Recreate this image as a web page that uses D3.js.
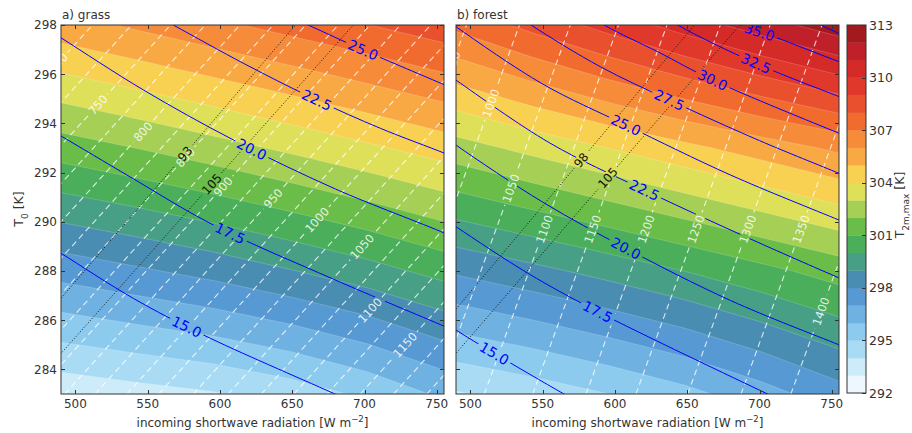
<!DOCTYPE html>
<html><head><meta charset="utf-8">
<script src="https://cdn.jsdelivr.net/npm/d3@7"></script>
<style>
body{margin:0;background:#fff}
text{font-family:'DejaVu Sans',sans-serif}
</style></head>
<body><svg id="c" width="912" height="433"></svg>
<script>
// ---------------- data ----------------
const swGrid = [490, 543, 596, 649, 702, 755];
const t0Grid = [283, 288, 293, 298];
const grassT2m = [
  [293.27, 293.6, 293.92, 294.45, 295.2, 296.2],
  [297.38, 297.85, 298.35, 298.95, 299.6, 300.35],
  [301.49, 302.02, 302.6, 303.2, 303.82, 304.46],
  [305.6, 306.18, 306.78, 307.38, 307.98, 308.6]
];
const forestT2m = [
  [293.9, 294.4, 295.0, 295.7, 296.6, 297.6],
  [298.14, 298.72, 299.35, 300.02, 300.72, 301.43],
  [302.57, 303.3, 304.02, 304.75, 305.47, 306.2],
  [307.25, 308.32, 309.39, 310.46, 311.53, 312.6]
];
const bandLevels = d3.range(292, 313);
const bandColors = ['#eef7fd','#cdebf9','#a9dcf4','#8ccbee','#6fb1e1','#5699d3','#4a8db3','#479f86','#4aae5a','#69bd48','#a6cf55','#dfe05a','#f8d052','#f8a944','#f68c3a','#f26b2e','#e9502d','#e0382a','#d42a28','#c0202a','#a31a1e'];
const cbTicks = [292, 295, 298, 301, 304, 307, 310, 313];
const xTicks = [500, 550, 600, 650, 700, 750];
const yTicks = [284, 286, 288, 290, 292, 294, 296, 298];

const grassBlueLevels = [15, 17.5, 20, 22.5, 25];
const grassBlueLines = [
  [[470,289.45],[490,288.72],[540,286.89],[588.5,285.4],[678.4,283.03],[720,281.93]],
  [[470,294.18],[490,293.49],[537.7,291.83],[595.4,289.87],[678.4,287.67],[755.7,285.74],[770,285.37]],
  [[470,298.23],[490,297.48],[547,295.36],[609.2,293.33],[680,291.33],[755.7,289.53],[770,289.13]],
  [[540,298.9],[567.7,298],[617.3,296.41],[666.9,294.95],[711,293.8],[755.7,292.78],[770,292.43]],
  [[630,298.82],[661,298],[699.2,296.98],[755.7,295.56],[770,295.2]]
];
const grassBlueLabelSW = [577, 607, 622, 667, 699];

const forestBlueLevels = [15, 17.5, 20, 22.5, 25, 27.5, 30, 32.5, 35, 37.5];
const forestBlueLines = [
  [[470,286.4],[490,285.6],[516.5,284.65],[563.8,283.03],[580,282.5]],
  [[470,290.6],[490,289.8],[540,287.9],[588,286.35],[704.5,283.03],[720,282.6]],
  [[470,294.0],[490,293.12],[550,290.8],[607.6,288.92],[680,286.8],[755,285.0],[770,284.65]],
  [[470,296.6],[490,295.76],[555,293.2],[620.3,291.29],[690,289.4],[755,287.72],[770,287.35]],
  [[470,298.8],[490,297.93],[550,295.6],[607.6,293.93],[680,291.9],[755,290.07],[770,289.7]],
  [[520,298.9],[541.9,298],[590,296.3],[637.6,294.95],[700,293.3],[755,291.97],[770,291.6]],
  [[570,298.9],[592.6,298],[630,296.9],[667.6,295.76],[755,293.6],[770,293.25]],
  [[620,298.9],[643.4,298],[697.6,296.44],[755,295.09],[770,294.75]],
  [[665,298.8],[687.2,298],[710.2,297.52],[755,296.51],[770,296.2]],
  [[725,298.6],[742.5,298],[755,297.66],[770,297.3]]
];
const forestBlueLabelSW = [516.5, 588, 607.6, 620.3, 607.6, 637.6, 667.6, 697.6, 700, null];

const grassWhiteLevels = [675,700,725,750,775,800,825,850,875,900,925,950,975,1000,1025,1050,1075,1100,1125,1150,1175,1200];
const grassWhiteBottomSW = [252.6,279.6,306.6,333.6,357.6,381.6,404.6,427.1,449.6,471.6,492.6,513.6,535.6,557.6,581.6,605.6,628.6,651.1,674.1,697.1,720.1,743.1];
const grassWhiteTopSW = [484.8,511.8,538.8,565.8,589.8,613.8,636.8,659.3,681.8,703.8,724.8,745.8,767.8,789.8,813.8,837.8,860.8,883.3,906.3,929.3,952.3,975.3];
const grassWhiteLabelLevels = [700,750,800,850,900,950,1000,1050,1100,1150];
const grassWhiteLabelSW = [488,515.6,546.7,576,602.1,636.7,667.1,698.3,703.8,728];

const forestWhiteLevels = [950,1000,1050,1100,1150,1200,1250,1300,1350,1400,1450];
const forestWhiteBottomSW = [404.4,441.0,476.2,509.6,543.1,580.0,614.5,650.3,687.2,721.7,756.5];
const forestWhiteTopSW = [497.3,533.9,569.1,602.5,636.0,672.9,707.4,743.2,780.1,814.6,849.4];
const forestWhiteLabelLevels = [950,1000,1050,1100,1150,1200,1250,1300,1350,1400];
const forestWhiteLabelSW = [488,514.2,528,551.1,584.6,621.5,656,691.8,728.7,742.5];

const grassDotLevels = [93, 105];
const grassDotLines = [[[470,285.52],[680,299.9]], [[470,283.33],[720,299.83]]];
const grassDotLabelSW = [575.8, 594.3];
const forestDotLevels = [98, 105];
const forestDotLines = [[[470,285.05],[680,299.75]], [[470,283.29],[720,300.29]]];
const forestDotLabelSW = [576.5, 595];

// ---------------- drawing ----------------
const svg = d3.select('#c');
const defs = svg.append('defs');
const TOP = 25, BOT = 394;
const ys = d3.scaleLinear().domain([283, 298]).range([BOT, TOP]);

function drawPanel(cfg) {
  const {id, x0, x1, title, grid} = cfg;
  const xs = d3.scaleLinear().domain([490, 755]).range([x0, x1]);
  defs.append('clipPath').attr('id', 'clip' + id)
    .append('rect').attr('x', x0).attr('y', TOP).attr('width', x1 - x0).attr('height', BOT - TOP);
  const mask = defs.append('mask').attr('id', 'mask' + id).attr('maskUnits', 'userSpaceOnUse')
    .attr('x', 0).attr('y', 0).attr('width', 912).attr('height', 433);
  mask.append('rect').attr('x', 0).attr('y', 0).attr('width', 912).attr('height', 433).attr('fill', 'white');

  const plot = svg.append('g').attr('clip-path', `url(#clip${id})`);

  // filled contours
  const nx = swGrid.length, ny = t0Grid.length;
  const dSW = swGrid[1] - swGrid[0], dT = t0Grid[1] - t0Grid[0];
  const values = [];
  for (let j = 0; j < ny; j++) for (let i = 0; i < nx; i++) values.push(grid[j][i]);
  const proj = d3.geoTransform({point(x, y) {
    this.stream.point(xs(swGrid[0] + (x - 0.5) * dSW), ys(t0Grid[0] + (y - 0.5) * dT));
  }});
  const gp = d3.geoPath(proj);
  const cs = d3.contours().size([nx, ny]).thresholds(bandLevels)(values);
  plot.append('g').selectAll('path').data(cs).join('path')
    .attr('d', gp)
    .attr('fill', d => bandColors[d.value - 292])
    .attr('stroke', 'rgba(255,255,255,0.3)')
    .attr('stroke-width', 0.6);

  const lines = plot.append('g').attr('mask', `url(#mask${id})`);
  const labels = plot.append('g');
  const line = d3.line().x(d => xs(d[0])).y(d => ys(d[1])).curve(d3.curveCatmullRom.alpha(0.5));
  const straight = d3.line().x(d => xs(d[0])).y(d => ys(d[1]));

  function label(pathSel, sw, txt, fill, fs, opacity) {
    const node = pathSel.node();
    const total = node.getTotalLength();
    const tx = xs(sw);
    let lo = 0, hi = total;
    for (let k = 0; k < 40; k++) {
      const mid = (lo + hi) / 2;
      if (node.getPointAtLength(mid).x < tx) lo = mid; else hi = mid;
    }
    const L = (lo + hi) / 2;
    const p = node.getPointAtLength(L);
    const a = node.getPointAtLength(Math.max(0, L - 6));
    const b = node.getPointAtLength(Math.min(total, L + 6));
    let ang = Math.atan2(b.y - a.y, b.x - a.x) * 180 / Math.PI;
    if (ang > 90) ang -= 180;
    if (ang < -90) ang += 180;
    const tr = `translate(${p.x},${p.y}) rotate(${ang})`;
    const t = labels.append('text').attr('transform', tr)
      .attr('text-anchor', 'middle').attr('dy', '0.36em')
      .attr('font-size', fs).attr('fill', fill).attr('fill-opacity', opacity).text(txt);
    const w = t.node().getComputedTextLength();
    mask.append('rect').attr('transform', tr)
      .attr('x', -w / 2 - 3).attr('y', -fs * 0.45).attr('width', w + 6).attr('height', fs * 0.9)
      .attr('fill', 'black');
  }

  // white dashed
  cfg.whiteLevels.forEach((lv, k) => {
    const pts = [[cfg.whiteBottom[k], 283], [cfg.whiteTop[k], 298]];
    const p = lines.append('path').attr('d', straight(pts)).attr('fill', 'none')
      .attr('stroke', '#fff').attr('stroke-opacity', 0.8).attr('stroke-width', 1.1)
      .attr('stroke-dasharray', '6,4');
    const li = cfg.whiteLabelLevels.indexOf(lv);
    if (li >= 0) label(p, cfg.whiteLabelSW[li], String(lv), '#fff', 11.5, 0.85);
  });
  // blue
  cfg.blueLevels.forEach((lv, k) => {
    const p = lines.append('path').attr('d', line(cfg.blueLines[k])).attr('fill', 'none')
      .attr('stroke', '#0000ff').attr('stroke-width', 1);
    if (cfg.blueLabelSW[k] != null) label(p, cfg.blueLabelSW[k], lv.toFixed(1), '#0000ff', 14, 1);
  });
  // black dotted
  cfg.dotLevels.forEach((lv, k) => {
    const p = lines.append('path').attr('d', straight(cfg.dotLines[k])).attr('fill', 'none')
      .attr('stroke', '#111').attr('stroke-width', 1).attr('stroke-dasharray', '1,2');
    label(p, cfg.dotLabelSW[k], String(lv), '#111', 12, 1);
  });

  // frame
  svg.append('rect').attr('x', x0).attr('y', TOP).attr('width', x1 - x0).attr('height', BOT - TOP)
    .attr('fill', 'none').attr('stroke', '#333').attr('stroke-width', 1);
  const ax = svg.append('g').attr('stroke', '#333').attr('stroke-width', 1);
  xTicks.forEach(v => {
    const x = Math.round(xs(v)) + 0.5;
    ax.append('line').attr('x1', x).attr('x2', x).attr('y1', BOT).attr('y2', BOT - 4);
    ax.append('line').attr('x1', x).attr('x2', x).attr('y1', TOP).attr('y2', TOP + 4);
    svg.append('text').attr('x', xs(v)).attr('y', 408).attr('text-anchor', 'middle')
      .attr('font-size', 12).attr('fill', '#333').text(v);
  });
  yTicks.forEach(v => {
    const y = Math.round(ys(v)) + 0.5;
    ax.append('line').attr('x1', x0).attr('x2', x0 + 4).attr('y1', y).attr('y2', y);
    ax.append('line').attr('x1', x1).attr('x2', x1 - 4).attr('y1', y).attr('y2', y);
    if (cfg.showY) svg.append('text').attr('x', x0 - 4).attr('y', ys(v)).attr('dy', '0.36em')
      .attr('text-anchor', 'end').attr('font-size', 12).attr('fill', '#333').text(v);
  });
  svg.append('text').attr('x', (x0 + x1) / 2).attr('y', 427).attr('text-anchor', 'middle')
    .attr('font-size', 12).attr('fill', '#333')
    .html('incoming shortwave radiation [W m<tspan baseline-shift="super" font-size="8.5">\u22122</tspan>]');
  svg.append('text').attr('x', x0 + 1).attr('y', 19).attr('font-size', 12).attr('fill', '#333').text(title);
}

drawPanel({id: 'a', x0: 61, x1: 444, title: 'a) grass', grid: grassT2m, showY: true,
  blueLevels: grassBlueLevels, blueLines: grassBlueLines, blueLabelSW: grassBlueLabelSW,
  whiteLevels: grassWhiteLevels, whiteBottom: grassWhiteBottomSW, whiteTop: grassWhiteTopSW,
  whiteLabelLevels: grassWhiteLabelLevels, whiteLabelSW: grassWhiteLabelSW,
  dotLevels: grassDotLevels, dotLines: grassDotLines, dotLabelSW: grassDotLabelSW});
drawPanel({id: 'b', x0: 456, x1: 839, title: 'b) forest', grid: forestT2m, showY: false,
  blueLevels: forestBlueLevels, blueLines: forestBlueLines, blueLabelSW: forestBlueLabelSW,
  whiteLevels: forestWhiteLevels, whiteBottom: forestWhiteBottomSW, whiteTop: forestWhiteTopSW,
  whiteLabelLevels: forestWhiteLabelLevels, whiteLabelSW: forestWhiteLabelSW,
  dotLevels: forestDotLevels, dotLines: forestDotLines, dotLabelSW: forestDotLabelSW});

// y label
svg.append('text').attr('transform', 'translate(23,209) rotate(-90)').attr('text-anchor', 'middle')
  .attr('font-size', 12.5).attr('fill', '#333')
  .html('T<tspan baseline-shift="sub" font-size="9">0</tspan> [K]');

// colorbar
const cbX = 847, cbW = 19, cbTop = 25, cbBot = 393;
const cy = d3.scaleLinear().domain([292, 313]).range([cbBot, cbTop]);
const cb = svg.append('g');
bandLevels.forEach((v, i) => {
  cb.append('rect').attr('x', cbX).attr('y', cy(v + 1)).attr('width', cbW).attr('height', cy(v) - cy(v + 1) + 0.3)
    .attr('fill', bandColors[i]);
});
cb.append('rect').attr('x', cbX).attr('y', cbTop).attr('width', cbW).attr('height', cbBot - cbTop)
  .attr('fill', 'none').attr('stroke', '#333');
cbTicks.forEach(v => {
  const y = Math.round(cy(v)) + 0.5;
  cb.append('line').attr('x1', cbX + cbW - 4).attr('x2', cbX + cbW).attr('y1', y).attr('y2', y).attr('stroke', '#333');
  cb.append('text').attr('x', cbX + cbW + 3).attr('y', cy(v)).attr('dy', '0.36em')
    .attr('font-size', 12.5).attr('fill', '#333').text(v);
});
svg.append('text').attr('transform', 'translate(904,205) rotate(-90)').attr('text-anchor', 'middle')
  .attr('font-size', 12.5).attr('fill', '#333')
  .html('T<tspan baseline-shift="sub" font-size="9">2m,max</tspan> [K]');
</script></body></html>
